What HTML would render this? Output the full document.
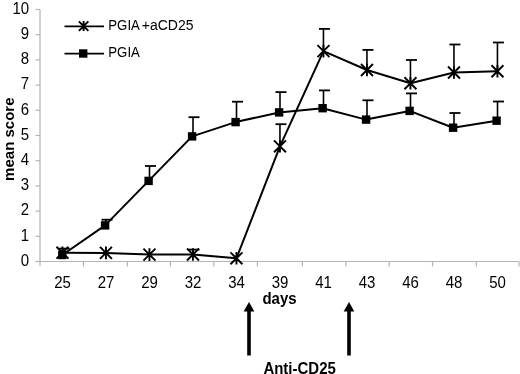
<!DOCTYPE html><html><head><meta charset="utf-8"><style>
html,body{margin:0;padding:0;background:#fff;width:520px;height:374px;overflow:hidden}
svg{position:absolute;left:0;top:0;display:block;filter:blur(0.35px)}
text{font-family:"Liberation Sans",sans-serif;fill:#000}
</style></head><body>
<svg width="520" height="374" viewBox="0 0 520 374">
<line x1="40" y1="9.5" x2="40" y2="266" stroke="#c8c8c8" stroke-width="1.7"/>
<line x1="35.5" y1="261.5" x2="519" y2="261.5" stroke="#b4b4b4" stroke-width="1.2"/>
<line x1="35.5" y1="261.50" x2="40" y2="261.50" stroke="#b4b4b4" stroke-width="1.2"/>
<text transform="translate(29.2,265.70) scale(1,1.05)" font-size="15" text-anchor="end">0</text>
<line x1="35.5" y1="236.30" x2="40" y2="236.30" stroke="#b4b4b4" stroke-width="1.2"/>
<text transform="translate(29.2,240.50) scale(1,1.05)" font-size="15" text-anchor="end">1</text>
<line x1="35.5" y1="211.10" x2="40" y2="211.10" stroke="#b4b4b4" stroke-width="1.2"/>
<text transform="translate(29.2,215.30) scale(1,1.05)" font-size="15" text-anchor="end">2</text>
<line x1="35.5" y1="185.90" x2="40" y2="185.90" stroke="#b4b4b4" stroke-width="1.2"/>
<text transform="translate(29.2,190.10) scale(1,1.05)" font-size="15" text-anchor="end">3</text>
<line x1="35.5" y1="160.70" x2="40" y2="160.70" stroke="#b4b4b4" stroke-width="1.2"/>
<text transform="translate(29.2,164.90) scale(1,1.05)" font-size="15" text-anchor="end">4</text>
<line x1="35.5" y1="135.50" x2="40" y2="135.50" stroke="#b4b4b4" stroke-width="1.2"/>
<text transform="translate(29.2,139.70) scale(1,1.05)" font-size="15" text-anchor="end">5</text>
<line x1="35.5" y1="110.30" x2="40" y2="110.30" stroke="#b4b4b4" stroke-width="1.2"/>
<text transform="translate(29.2,114.50) scale(1,1.05)" font-size="15" text-anchor="end">6</text>
<line x1="35.5" y1="85.10" x2="40" y2="85.10" stroke="#b4b4b4" stroke-width="1.2"/>
<text transform="translate(29.2,89.30) scale(1,1.05)" font-size="15" text-anchor="end">7</text>
<line x1="35.5" y1="59.90" x2="40" y2="59.90" stroke="#b4b4b4" stroke-width="1.2"/>
<text transform="translate(29.2,64.10) scale(1,1.05)" font-size="15" text-anchor="end">8</text>
<line x1="35.5" y1="34.70" x2="40" y2="34.70" stroke="#b4b4b4" stroke-width="1.2"/>
<text transform="translate(29.2,38.90) scale(1,1.05)" font-size="15" text-anchor="end">9</text>
<line x1="35.5" y1="9.50" x2="40" y2="9.50" stroke="#b4b4b4" stroke-width="1.2"/>
<text transform="translate(29.2,13.70) scale(1,1.05)" font-size="15" text-anchor="end">10</text>
<line x1="83.50" y1="261.5" x2="83.50" y2="266.5" stroke="#b4b4b4" stroke-width="1.2"/>
<line x1="127.40" y1="261.5" x2="127.40" y2="266.5" stroke="#b4b4b4" stroke-width="1.2"/>
<line x1="170.40" y1="261.5" x2="170.40" y2="266.5" stroke="#b4b4b4" stroke-width="1.2"/>
<line x1="213.90" y1="261.5" x2="213.90" y2="266.5" stroke="#b4b4b4" stroke-width="1.2"/>
<line x1="257.40" y1="261.5" x2="257.40" y2="266.5" stroke="#b4b4b4" stroke-width="1.2"/>
<line x1="302.40" y1="261.5" x2="302.40" y2="266.5" stroke="#b4b4b4" stroke-width="1.2"/>
<line x1="345.90" y1="261.5" x2="345.90" y2="266.5" stroke="#b4b4b4" stroke-width="1.2"/>
<line x1="389.20" y1="261.5" x2="389.20" y2="266.5" stroke="#b4b4b4" stroke-width="1.2"/>
<line x1="432.50" y1="261.5" x2="432.50" y2="266.5" stroke="#b4b4b4" stroke-width="1.2"/>
<line x1="476.30" y1="261.5" x2="476.30" y2="266.5" stroke="#b4b4b4" stroke-width="1.2"/>
<line x1="519.00" y1="261.5" x2="519.00" y2="266.5" stroke="#b4b4b4" stroke-width="1.2"/>
<text transform="translate(62.60,287.6) scale(1,1.08)" font-size="15" text-anchor="middle">25</text>
<text transform="translate(106.10,287.6) scale(1,1.08)" font-size="15" text-anchor="middle">27</text>
<text transform="translate(149.60,287.6) scale(1,1.08)" font-size="15" text-anchor="middle">29</text>
<text transform="translate(193.10,287.6) scale(1,1.08)" font-size="15" text-anchor="middle">32</text>
<text transform="translate(236.60,287.6) scale(1,1.08)" font-size="15" text-anchor="middle">34</text>
<text transform="translate(280.10,287.6) scale(1,1.08)" font-size="15" text-anchor="middle">39</text>
<text transform="translate(323.60,287.6) scale(1,1.08)" font-size="15" text-anchor="middle">41</text>
<text transform="translate(367.10,287.6) scale(1,1.08)" font-size="15" text-anchor="middle">43</text>
<text transform="translate(410.60,287.6) scale(1,1.08)" font-size="15" text-anchor="middle">46</text>
<text transform="translate(454.10,287.6) scale(1,1.08)" font-size="15" text-anchor="middle">48</text>
<text transform="translate(497.60,287.6) scale(1,1.08)" font-size="15" text-anchor="middle">50</text>
<text transform="translate(279.5,303.6) scale(1,1.07)" font-size="15" font-weight="bold" text-anchor="middle">days</text>
<text transform="translate(14,139.2) rotate(-90)" x="0" y="0" font-size="15" font-weight="bold" text-anchor="middle">mean score</text>
<text transform="translate(299.6,374.0) scale(1,1.05)" font-size="15" font-weight="bold" text-anchor="middle">Anti-CD25</text>
<rect x="247.20" y="310" width="3.6" height="45.5" fill="#000"/>
<polygon points="249.00,302 254.30,311.5 243.70,311.5" fill="#000"/>
<rect x="347.20" y="310" width="3.6" height="45.5" fill="#000"/>
<polygon points="349.00,302 354.30,311.5 343.70,311.5" fill="#000"/>
<line x1="63.20" y1="255.00" x2="63.20" y2="248.60" stroke="#000" stroke-width="1.6"/><line x1="58.70" y1="248.60" x2="69.70" y2="248.60" stroke="#000" stroke-width="1.8"/>
<line x1="106.00" y1="225.40" x2="106.00" y2="219.70" stroke="#000" stroke-width="1.6"/><line x1="101.50" y1="219.70" x2="112.50" y2="219.70" stroke="#000" stroke-width="1.8"/>
<line x1="149.50" y1="180.90" x2="149.50" y2="166.00" stroke="#000" stroke-width="1.6"/><line x1="145.00" y1="166.00" x2="156.00" y2="166.00" stroke="#000" stroke-width="1.8"/>
<line x1="193.00" y1="136.40" x2="193.00" y2="117.20" stroke="#000" stroke-width="1.6"/><line x1="188.50" y1="117.20" x2="199.50" y2="117.20" stroke="#000" stroke-width="1.8"/>
<line x1="236.50" y1="122.10" x2="236.50" y2="101.70" stroke="#000" stroke-width="1.6"/><line x1="232.00" y1="101.70" x2="243.00" y2="101.70" stroke="#000" stroke-width="1.8"/>
<line x1="280.00" y1="112.40" x2="280.00" y2="92.10" stroke="#000" stroke-width="1.6"/><line x1="275.50" y1="92.10" x2="286.50" y2="92.10" stroke="#000" stroke-width="1.8"/>
<line x1="323.50" y1="108.20" x2="323.50" y2="90.40" stroke="#000" stroke-width="1.6"/><line x1="319.00" y1="90.40" x2="330.00" y2="90.40" stroke="#000" stroke-width="1.8"/>
<line x1="367.00" y1="119.60" x2="367.00" y2="100.30" stroke="#000" stroke-width="1.6"/><line x1="362.50" y1="100.30" x2="373.50" y2="100.30" stroke="#000" stroke-width="1.8"/>
<line x1="410.50" y1="110.90" x2="410.50" y2="93.40" stroke="#000" stroke-width="1.6"/><line x1="406.00" y1="93.40" x2="417.00" y2="93.40" stroke="#000" stroke-width="1.8"/>
<line x1="454.00" y1="127.70" x2="454.00" y2="113.00" stroke="#000" stroke-width="1.6"/><line x1="449.50" y1="113.00" x2="460.50" y2="113.00" stroke="#000" stroke-width="1.8"/>
<line x1="497.50" y1="120.70" x2="497.50" y2="101.50" stroke="#000" stroke-width="1.6"/><line x1="493.00" y1="101.50" x2="504.00" y2="101.50" stroke="#000" stroke-width="1.8"/>
<line x1="192.95" y1="254.50" x2="192.95" y2="249.60" stroke="#000" stroke-width="1.6"/><line x1="188.45" y1="249.60" x2="199.45" y2="249.60" stroke="#000" stroke-width="1.8"/>
<line x1="279.95" y1="146.30" x2="279.95" y2="124.20" stroke="#000" stroke-width="1.6"/><line x1="275.45" y1="124.20" x2="286.45" y2="124.20" stroke="#000" stroke-width="1.8"/>
<line x1="323.45" y1="51.10" x2="323.45" y2="28.90" stroke="#000" stroke-width="1.6"/><line x1="318.95" y1="28.90" x2="329.95" y2="28.90" stroke="#000" stroke-width="1.8"/>
<line x1="366.95" y1="70.00" x2="366.95" y2="49.90" stroke="#000" stroke-width="1.6"/><line x1="362.45" y1="49.90" x2="373.45" y2="49.90" stroke="#000" stroke-width="1.8"/>
<line x1="410.45" y1="83.25" x2="410.45" y2="60.00" stroke="#000" stroke-width="1.6"/><line x1="405.95" y1="60.00" x2="416.95" y2="60.00" stroke="#000" stroke-width="1.8"/>
<line x1="453.95" y1="72.50" x2="453.95" y2="44.50" stroke="#000" stroke-width="1.6"/><line x1="449.45" y1="44.50" x2="460.45" y2="44.50" stroke="#000" stroke-width="1.8"/>
<line x1="497.45" y1="71.25" x2="497.45" y2="42.50" stroke="#000" stroke-width="1.6"/><line x1="492.95" y1="42.50" x2="503.95" y2="42.50" stroke="#000" stroke-width="1.8"/>
<polyline points="62.30,255.00 105.10,225.40 148.60,180.90 192.10,136.40 235.60,122.10 279.10,112.40 322.60,108.20 366.10,119.60 409.60,110.90 453.10,127.70 496.60,120.70" fill="none" stroke="#000" stroke-width="2.0" stroke-linejoin="round"/>
<polyline points="62.45,252.70 105.95,252.90 149.45,254.60 192.95,254.50 236.45,258.30 279.95,146.30 323.45,51.10 366.95,70.00 410.45,83.25 453.95,72.50 497.45,71.25" fill="none" stroke="#000" stroke-width="2.0" stroke-linejoin="round"/>
<rect x="58.10" y="250.80" width="8.40" height="8.40" fill="#000"/>
<rect x="100.90" y="221.20" width="8.40" height="8.40" fill="#000"/>
<rect x="144.40" y="176.70" width="8.40" height="8.40" fill="#000"/>
<rect x="187.90" y="132.20" width="8.40" height="8.40" fill="#000"/>
<rect x="231.40" y="117.90" width="8.40" height="8.40" fill="#000"/>
<rect x="274.90" y="108.20" width="8.40" height="8.40" fill="#000"/>
<rect x="318.40" y="104.00" width="8.40" height="8.40" fill="#000"/>
<rect x="361.90" y="115.40" width="8.40" height="8.40" fill="#000"/>
<rect x="405.40" y="106.70" width="8.40" height="8.40" fill="#000"/>
<rect x="448.90" y="123.50" width="8.40" height="8.40" fill="#000"/>
<rect x="492.40" y="116.50" width="8.40" height="8.40" fill="#000"/>
<path d="M56.47,246.71L68.44,258.69M68.44,246.71L56.47,258.69M62.45,246.40L62.45,259.00" stroke="#000" stroke-width="1.9" fill="none"/>
<path d="M99.96,246.92L111.93,258.88M111.93,246.92L99.96,258.88M105.95,246.60L105.95,259.20" stroke="#000" stroke-width="1.9" fill="none"/>
<path d="M143.46,248.62L155.44,260.58M155.44,248.62L143.46,260.58M149.45,248.30L149.45,260.90" stroke="#000" stroke-width="1.9" fill="none"/>
<path d="M186.96,248.51L198.94,260.49M198.94,248.51L186.96,260.49M192.95,248.20L192.95,260.80" stroke="#000" stroke-width="1.9" fill="none"/>
<path d="M230.46,252.31L242.44,264.29M242.44,252.31L230.46,264.29M236.45,252.00L236.45,264.60" stroke="#000" stroke-width="1.9" fill="none"/>
<path d="M273.97,140.31L285.94,152.29M285.94,140.31L273.97,152.29M279.95,140.00L279.95,152.60" stroke="#000" stroke-width="1.9" fill="none"/>
<path d="M317.47,45.12L329.44,57.09M329.44,45.12L317.47,57.09M323.45,44.80L323.45,57.40" stroke="#000" stroke-width="1.9" fill="none"/>
<path d="M360.97,64.02L372.94,75.98M372.94,64.02L360.97,75.98M366.95,63.70L366.95,76.30" stroke="#000" stroke-width="1.9" fill="none"/>
<path d="M404.47,77.27L416.44,89.23M416.44,77.27L404.47,89.23M410.45,76.95L410.45,89.55" stroke="#000" stroke-width="1.9" fill="none"/>
<path d="M447.97,66.52L459.94,78.48M459.94,66.52L447.97,78.48M453.95,66.20L453.95,78.80" stroke="#000" stroke-width="1.9" fill="none"/>
<path d="M491.47,65.27L503.44,77.23M503.44,65.27L491.47,77.23M497.45,64.95L497.45,77.55" stroke="#000" stroke-width="1.9" fill="none"/>
<line x1="64.5" y1="26.4" x2="104" y2="26.4" stroke="#000" stroke-width="1.7"/>
<path d="M78.85,21.35L88.35,30.85M88.35,21.35L78.85,30.85M83.60,21.10L83.60,31.10" stroke="#000" stroke-width="1.9" fill="none"/>
<text transform="translate(108.3,29.8) scale(1,1.04)" font-size="14" textLength="31.6" lengthAdjust="spacingAndGlyphs">PGIA</text>
<text transform="translate(141.76,29.8) scale(1,1.04)" font-size="14">+aCD25</text>
<line x1="64.5" y1="53.7" x2="104" y2="53.7" stroke="#000" stroke-width="1.7"/>
<rect x="79.00" y="49.30" width="8.40" height="8.40" fill="#000"/>
<text transform="translate(108.3,57.1) scale(1,1.04)" font-size="14" textLength="31.6" lengthAdjust="spacingAndGlyphs">PGIA</text>
</svg></body></html>
